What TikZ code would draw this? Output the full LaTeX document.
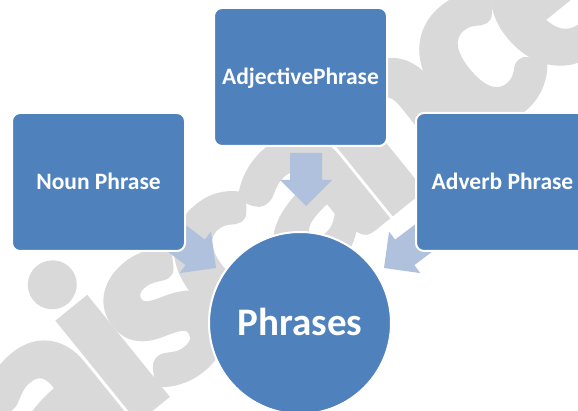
\documentclass[tikz,border=0pt]{standalone}
\usepackage{fontspec}
\setmainfont{Carlito}
\newfontfamily\wmfont{Carlito}[BoldFeatures={FakeBold=4,LetterSpace=-6}]
\usetikzlibrary{calc}
\definecolor{boxblue}{HTML}{4F81BD}
\definecolor{arrowblue}{HTML}{B0C1DD}
\definecolor{wmgray}{HTML}{D9D9D9}
\tikzset{
  phrasebox/.style={draw=white, line width=2pt, fill=boxblue, rounded corners=8pt,
    minimum width=173pt, minimum height=138pt, inner sep=0pt, text=white,
    font=\bfseries\fontsize{23.5}{28}\selectfont, text height=15pt, text depth=0pt},
  hub/.style={circle, draw=white, line width=2pt, fill=boxblue, minimum size=182pt,
    inner sep=0pt, text=white, font=\bfseries\fontsize{39}{44}\selectfont,
    text height=25pt, text depth=0pt},
  watermark/.style={text=wmgray, font=\wmfont\bfseries\fontsize{250}{260}\selectfont,
    anchor=base, inner sep=0pt, rotate=39},
  blockarrow/.pic={\fill[arrowblue] (0,-16) -- (27,-16) -- (27,-26) -- (53,0) -- (27,26) -- (27,16) -- (0,16) -- cycle;}
}
\begin{document}
\begin{tikzpicture}[x=1pt,y=-1pt]
\useasboundingbox (0,0) rectangle (578,411);
\clip (0,0) rectangle (578,411);
\fill[white] (0,0) rectangle (578,411);
% watermark
\node[watermark] (wm) at (342,251) {aiscance};
% box placeholders (named first for arrow placement)
\path node[phrasebox, draw=none, fill=none] (noun) at (98.5,182) {}
      node[phrasebox, draw=none, fill=none] (adj) at (300.5,77) {}
      node[phrasebox, draw=none, fill=none] (adv) at (502.5,182) {};
% arrows
\pic[rotate=-90] at ($(adj.south)+(5.5,6)$) {blockarrow};
\pic[rotate=-37] at ($(noun.south east)+(-12.3,-15.9)$) {blockarrow};
\pic[rotate=-143] at ($(adv.south west)+(11.3,-15.9)$) {blockarrow};
% visible boxes
\node[phrasebox] (nounbox) at (noun) {Noun Phrase};
\node[phrasebox] (adjbox) at (adj) {AdjectivePhrase};
\node[phrasebox] (advbox) at (adv) {Adverb Phrase};
\node[hub] (hub) at (300,323) {Phrases};
\end{tikzpicture}
\end{document}
